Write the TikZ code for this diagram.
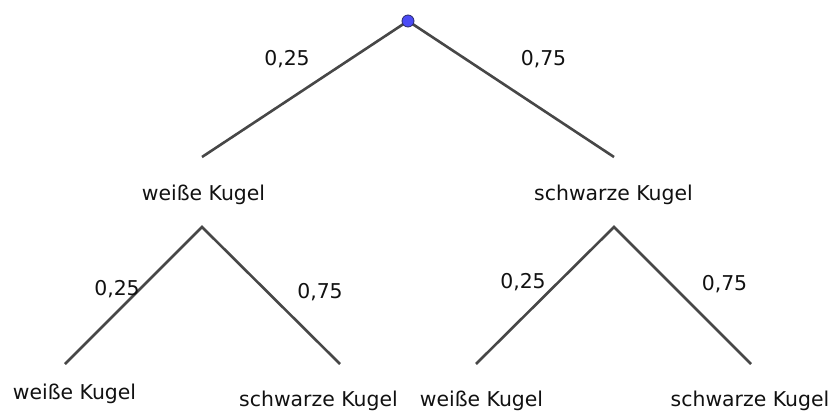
\documentclass[tikz,border=0pt]{standalone}
\usepackage{fontspec}
\setmainfont{DejaVu Sans}
\definecolor{edgegray}{HTML}{474747}
\definecolor{dotblue}{HTML}{4B4BF5}
\definecolor{dotrim}{HTML}{2A2A6A}
\definecolor{txt}{HTML}{111111}
\tikzset{
  branch/.style={draw=edgegray, line width=2.6pt},
  lbl/.style={inner sep=0pt, anchor=base, text=txt, font=\fontsize{20.4}{24}\selectfont},
  rootdot/.style={circle, fill=dotblue, draw=dotrim, line width=0.8pt, minimum size=12pt, inner sep=0pt}
}
\begin{document}
\begin{tikzpicture}[x=1pt,y=-1pt]
\useasboundingbox (0,0) rectangle (836,412);
% end points of branches
\coordinate (w1) at (202,157);
\coordinate (s1) at (614,157);
\coordinate (wt) at (202,227);
\coordinate (st) at (614,227);
\coordinate (ww) at (65,364);
\coordinate (ws) at (340,364);
\coordinate (sw) at (476,364);
\coordinate (ss) at (751,364);
% branches
\draw[branch] (408,21) coordinate (rc) -- (w1);
\draw[branch] (rc) -- (s1);
\draw[branch] (ww) -- (wt) -- (ws);
\draw[branch] (sw) -- (st) -- (ss);
\node[rootdot] (root) at (rc) {};
% texts
\node[lbl] (tw1) at (203.5,200) {weiße Kugel};
\node[lbl] (ts1) at (613.5,200) {schwarze Kugel};
\node[lbl] (tww) at (74.5,399) {weiße Kugel};
\node[lbl] (tws) at (318.5,406) {schwarze Kugel};
\node[lbl] (tsw) at (481.5,406) {weiße Kugel};
\node[lbl] (tss) at (750,406) {schwarze Kugel};
% probabilities
\node[lbl] (p1) at (287,66) {0,25};
\node[lbl] (p2) at (543.5,66) {0,75};
\node[lbl] (p3) at (117,295) {0,25};
\node[lbl] (p4) at (320,298) {0,75};
\node[lbl] (p5) at (523,288) {0,25};
\node[lbl] (p6) at (724.5,290) {0,75};
\end{tikzpicture}
\end{document}
